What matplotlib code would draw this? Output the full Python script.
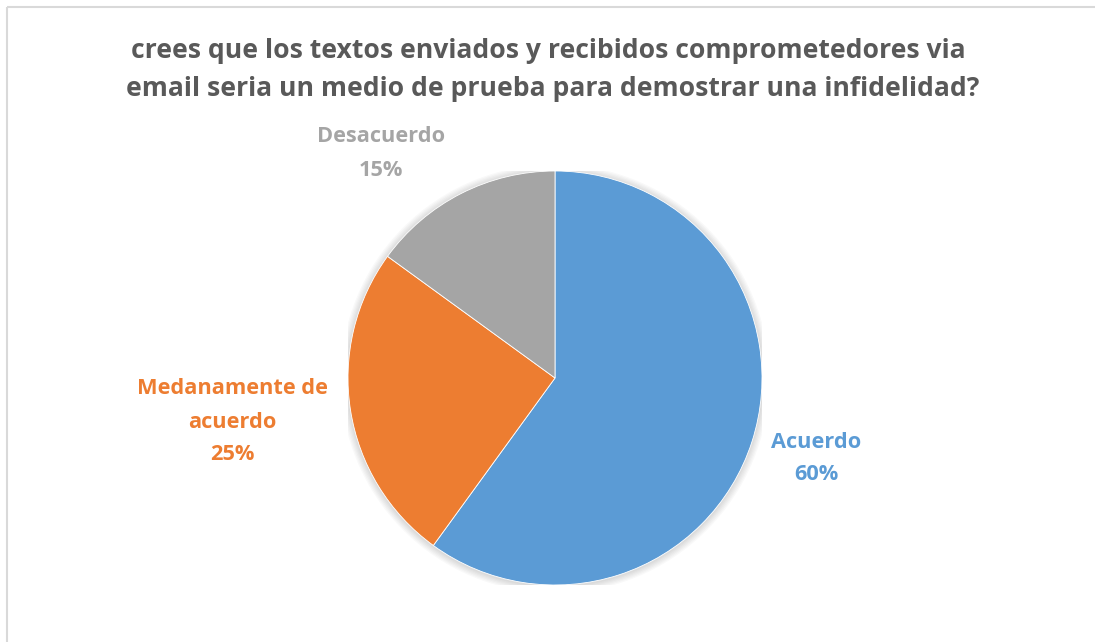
import matplotlib
matplotlib.use("Agg")
import matplotlib.pyplot as plt
from matplotlib.patches import Rectangle, Circle

categories = ["Acuerdo", "Medanamente de\nacuerdo", "Desacuerdo"]
values = [60, 25, 15]
colors = ["#5B9BD5", "#ED7D31", "#A5A5A5"]
title = "crees que los textos enviados y recibidos comprometedores via\nemail seria un medio de prueba para demostrar una infidelidad?"

W, H = 1095, 642
fig = plt.figure(figsize=(W / 100, H / 100), dpi=100)
plt.rcParams['font.family'] = ['Open Sans', 'DejaVu Sans']

# border
bg = fig.add_axes([0, 0, 1, 1])
bg.set_xlim(0, W)
bg.set_ylim(H, 0)
bg.axis('off')
bg.add_patch(Rectangle((6.5, 6.5), W + 20, H + 20, fill=False, edgecolor="#D9D9D9", linewidth=1.5))

def fx(x):
    return x / W

def fy(y):
    return 1 - y / H

renderer = fig.canvas.get_renderer()

def fitted_text(x, y, s, target_w, color, size0=14, **kw):
    t = fig.text(fx(x), fy(y), s, color=color, fontsize=size0, fontweight='bold',
                 ha='center', va='center', **kw)
    bb = t.get_window_extent(renderer=renderer)
    t.set_fontsize(size0 * target_w / bb.width)
    return t

# title
t1 = fitted_text(548, 51, title.split("\n")[0], 835, "#595959", size0=18)
fig.text(fx(553), fy(89), title.split("\n")[1], color="#595959",
         fontsize=t1.get_fontsize(), fontweight='bold', ha='center', va='center')

# pie
cx, cy, r = 555, 378, 207
ax = fig.add_axes([(cx - r) / W, (H - cy - r) / H, 2 * r / W, 2 * r / H])
for k in range(6):
    ax.add_patch(Circle((0, -0.004), 1.0 + 0.006 * (k + 1), color='black', alpha=0.025, lw=0, zorder=0))
ax.pie(values, colors=colors, startangle=90, counterclock=False, radius=1,
       wedgeprops=dict(linewidth=0.6, edgecolor='white', zorder=2))
ax.set_xlim(-1, 1)
ax.set_ylim(-1, 1)
ax.set_aspect('equal')
ax.axis('off')

# labels
lab = fitted_text(381, 137, "Desacuerdo", 129, colors[2], size0=14)
fs = lab.get_fontsize()
fig.text(fx(381), fy(171), f"{values[2]}%", color=colors[2], fontsize=fs, fontweight='bold', ha='center', va='center')

fig.text(fx(232), fy(389), categories[1].split("\n")[0], color=colors[1], fontsize=fs, fontweight='bold', ha='center', va='center')
fig.text(fx(232), fy(422), categories[1].split("\n")[1], color=colors[1], fontsize=fs, fontweight='bold', ha='center', va='center')
fig.text(fx(232), fy(455), f"{values[1]}%", color=colors[1], fontsize=fs, fontweight='bold', ha='center', va='center')

fig.text(fx(816), fy(442), categories[0], color=colors[0], fontsize=fs, fontweight='bold', ha='center', va='center')
fig.text(fx(816), fy(475), f"{values[0]}%", color=colors[0], fontsize=fs, fontweight='bold', ha='center', va='center')

fig.savefig("out.png", dpi=100)
